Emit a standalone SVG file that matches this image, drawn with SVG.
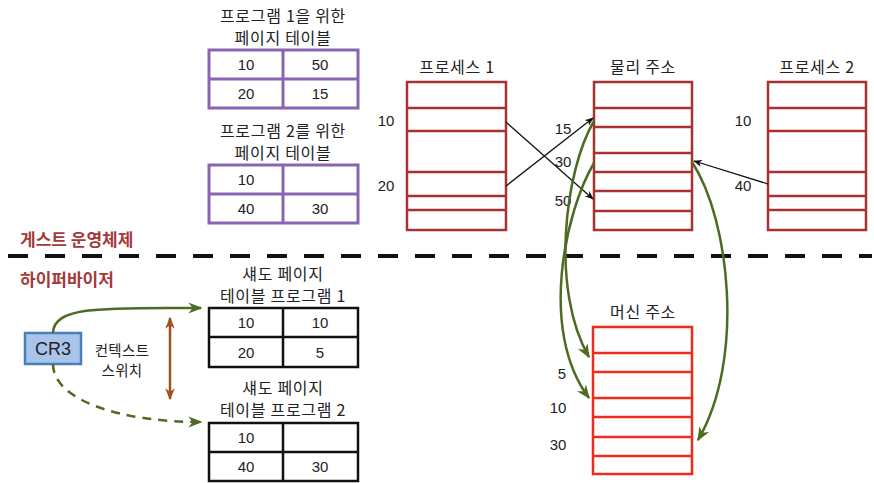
<svg xmlns="http://www.w3.org/2000/svg" width="874" height="483" viewBox="0 0 874 483">
<defs>
<style>
text{font-family:"Liberation Sans","Noto Sans CJK KR",sans-serif;font-size:15px;fill:#222;text-anchor:middle;dominant-baseline:central}
.k{font-family:"Noto Sans CJK KR","Liberation Sans",sans-serif;font-size:16px;letter-spacing:0.7px}
.sec{font-family:"Noto Sans CJK KR",sans-serif;font-size:17px;font-weight:bold;fill:#a33a3a;text-anchor:start}
.pt{fill:#fff;stroke:#8a64b0;stroke-width:3}
.st{fill:#fff;stroke:#111;stroke-width:2.5}
.mem{fill:#fff;stroke:#a83232;stroke-width:2.5}
.mach{fill:#fff;stroke:#ee2c1e;stroke-width:2.5}
.blk{stroke:#111;stroke-width:1.3;fill:none}
.grn{stroke:#4e6b24;stroke-width:2.5;fill:none}
</style>
<marker id="ab" viewBox="0 0 10 10" refX="9" refY="5" markerWidth="9" markerHeight="9" markerUnits="userSpaceOnUse" orient="auto"><path d="M0,1 L10,5 L0,9 L3,5 Z" fill="#111"/></marker>
<marker id="ag" viewBox="0 0 10 10" refX="9" refY="5" markerWidth="14" markerHeight="14" markerUnits="userSpaceOnUse" orient="auto"><path d="M0,1 L10,5 L0,9 L3,5 Z" fill="#4e6b24"/></marker>
<marker id="ao" viewBox="0 0 10 10" refX="9" refY="5" markerWidth="12" markerHeight="12" markerUnits="userSpaceOnUse" orient="auto-start-reverse"><path d="M0,1 L10,5 L0,9 L3,5 Z" fill="#a0501a"/></marker>
</defs>

<g id="pt1">
<text class="k" x="283" y="15">프로그램 1을 위한</text>
<text class="k" x="283" y="37">페이지 테이블</text>
<rect class="pt" x="209" y="50" width="149" height="58"/>
<path class="pt" d="M283 50V108M209 79H358"/>
<text x="246" y="64">10</text><text x="320" y="64">50</text>
<text x="246" y="93">20</text><text x="320" y="93">15</text>
</g>

<g id="pt2">
<text class="k" x="283" y="130">프로그램 2를 위한</text>
<text class="k" x="283" y="152">페이지 테이블</text>
<rect class="pt" x="209" y="165" width="149" height="58"/>
<path class="pt" d="M283 165V223M209 194H358"/>
<text x="246" y="179">10</text>
<text x="246" y="208">40</text><text x="320" y="208">30</text>
</g>

<g id="proc1">
<text class="k" x="457" y="66">프로세스 1</text>
<rect class="mem" x="407" y="82" width="99" height="148"/>
<path class="mem" d="M407 108H506M407 131H506M407 172H506M407 196H506M407 210H506"/>
<text x="386" y="120">10</text>
<text x="386" y="185">20</text>
</g>

<g id="phys">
<text class="k" x="643" y="66">물리 주소</text>
<rect class="mem" x="594" y="82" width="98" height="148"/>
<path class="mem" d="M594 108H692M594 127H692M594 153H692M594 172H692M594 191H692M594 211H692"/>
<text x="563" y="128">15</text>
<text x="563" y="161">30</text>
<text x="563" y="200">50</text>
</g>

<g id="proc2">
<text class="k" x="817" y="66">프로세스 2</text>
<rect class="mem" x="768" y="82" width="98" height="148"/>
<path class="mem" d="M768 108H866M768 131H866M768 172H866M768 196H866M768 210H866"/>
<text x="743" y="120">10</text>
<text x="743" y="185">40</text>
</g>

<g id="labels">
<text class="sec" x="20" y="238">게스트 운영체제</text>
<text class="sec" x="20" y="278">하이퍼바이저</text>
<line x1="8" y1="256" x2="872" y2="256" stroke="#111" stroke-width="4" stroke-dasharray="20 17"/>
</g>

<g id="cr3">
<rect x="25" y="333" width="56" height="31" fill="#a9c4eb" stroke="#4a7ebb" stroke-width="2.5"/>
<text x="53" y="349" style="font-size:18px">CR3</text>
</g>

<g id="ctx">
<text class="k" x="122" y="349" style="font-size:14.5px;letter-spacing:0.3px">컨텍스트</text>
<text class="k" x="122" y="369" style="font-size:14.5px;letter-spacing:0.3px">스위치</text>
</g>

<g id="spt1">
<text class="k" x="283" y="273">섀도 페이지</text>
<text class="k" x="283" y="295">테이블 프로그램 1</text>
<rect class="st" x="209" y="308" width="149" height="59"/>
<path class="st" d="M283 308V367M209 337H358"/>
<text x="246" y="322">10</text><text x="320" y="322">10</text>
<text x="246" y="352">20</text><text x="320" y="352">5</text>
</g>

<g id="spt2">
<text class="k" x="283" y="387">섀도 페이지</text>
<text class="k" x="283" y="409">테이블 프로그램 2</text>
<rect class="st" x="209" y="423" width="149" height="58"/>
<path class="st" d="M283 423V481M209 452H358"/>
<text x="246" y="437">10</text>
<text x="246" y="466">40</text><text x="320" y="466">30</text>
</g>

<g id="machine">
<text class="k" x="643" y="311">머신 주소</text>
<rect class="mach" x="593" y="327" width="99" height="147"/>
<path class="mach" d="M593 353H692M593 372H692M593 398H692M593 417H692M593 437H692M593 456H692"/>
<text x="562" y="373">5</text>
<text x="558" y="407">10</text>
<text x="558" y="444">30</text>
</g>

<g id="connectors">
<line class="blk" x1="506" y1="122" x2="593" y2="199" marker-end="url(#ab)"/>
<line class="blk" x1="506" y1="186" x2="593" y2="118" marker-end="url(#ab)"/>
<line class="blk" x1="768" y1="184" x2="694" y2="161" marker-end="url(#ab)"/>
<path class="grn" d="M594 121 C565 170, 550 290, 589 357" marker-end="url(#ag)"/>
<path class="grn" d="M594 163 C566 210, 538 330, 589 398" marker-end="url(#ag)"/>
<path class="grn" d="M692 162 C730 220, 745 360, 698 440" marker-end="url(#ag)"/>
<path class="grn" d="M53 333 C53 305, 110 308, 201 308" marker-end="url(#ag)"/>
<path class="grn" d="M53 364 C53 400, 120 422, 201 422" stroke-dasharray="9 7" marker-end="url(#ag)"/>
<line x1="170" y1="318" x2="170" y2="399" stroke="#a0501a" stroke-width="2.5" marker-start="url(#ao)" marker-end="url(#ao)"/>
</g>
</svg>
